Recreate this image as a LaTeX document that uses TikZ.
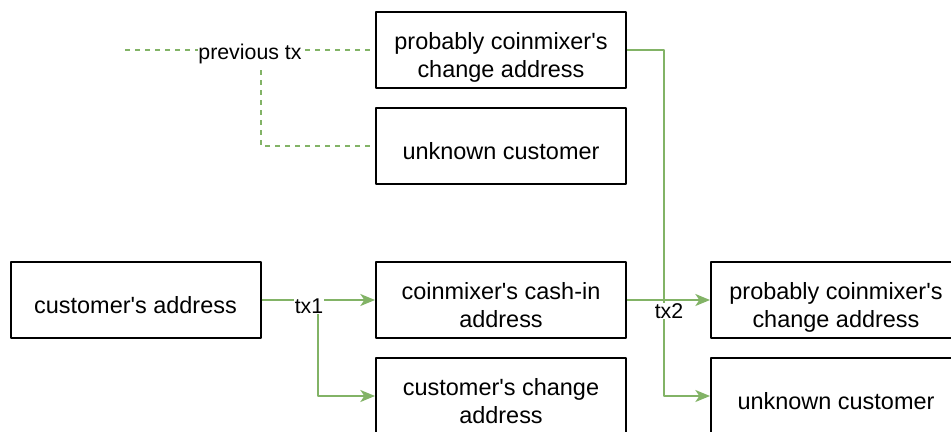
\documentclass[tikz,border=0pt]{standalone}
\usepackage{fontspec}
\setmainfont{Liberation Sans}
\usepackage{xcolor}
\usetikzlibrary{arrows.meta}
\definecolor{txgreen}{HTML}{82B366}
% box text, set a little below the middle
\newcommand{\boxtext}[1]{\raisebox{0pt}[\dimexpr\height+12.5pt\relax][\depth]{\begin{tabular}{@{}c@{}}#1\end{tabular}}}

\begin{document}
\begin{tikzpicture}[x=0.75pt,y=-0.75pt,>={Stealth[length=11pt,width=9pt,inset=3pt]},line join=round,
  box/.style={draw,line width=1.5pt,minimum width=187.5pt,minimum height=57pt,inner sep=0pt,font=\fontsize{17.6}{21}\selectfont},
  flow/.style={draw=txgreen,line width=1.5pt},
  prevline/.style={draw=txgreen,line width=1.2pt,dash pattern=on 3.75pt off 3.75pt},
  txlabel/.style={fill=white,inner sep=0.5pt,font=\fontsize{16}{19}\selectfont}]
  \clip (0,0) rectangle (951,432);
  % boxes
  \node[box] (CUST) at (135.5,300) {\boxtext{customer\textquotesingle s address}};
  \node[box] (CASHIN) at (501,300) {\boxtext{coinmixer\textquotesingle s cash-in\\address}};
  \node[box] (CHANGE) at (501,396) {\boxtext{customer\textquotesingle s change\\address}};
  \node[box] (TOPCHANGE) at (501,50) {\boxtext{probably coinmixer\textquotesingle s\\change address}};
  \node[box] (TOPUNK) at (501,146) {\boxtext{unknown customer}};
  \node[box] (RCHANGE) at (836,300) {\boxtext{probably coinmixer\textquotesingle s\\change address}};
  \node[box] (RUNK) at (836,396) {\boxtext{unknown customer}};
  % junctions
  \coordinate (J1) at (318,300);
  \coordinate (J2) at (664,300);
  \coordinate (PREV) at (125,50);
  \coordinate (D1) at (261,50);
  % previous tx
  \draw[prevline] (PREV) -- (TOPCHANGE.west);
  \draw[prevline] (D1) |- (TOPUNK.west);
  % tx1
  \draw[flow,->] (CUST.east) -- (CASHIN.west);
  \draw[flow,->] (J1) |- (CHANGE.west);
  % tx2
  \draw[flow,->] (CASHIN.east) -- (RCHANGE.west);
  \draw[flow] (TOPCHANGE.east) -| (J2);
  \draw[flow,->] (J2) |- (RUNK.west);
  % labels
  \node[txlabel] (PREVTX) at (250,54) {previous tx};
  \node[txlabel] (TX1) at (309,306) {tx1};
  \node[txlabel] (TX2) at (669,311) {tx2};
\end{tikzpicture}
\end{document}
